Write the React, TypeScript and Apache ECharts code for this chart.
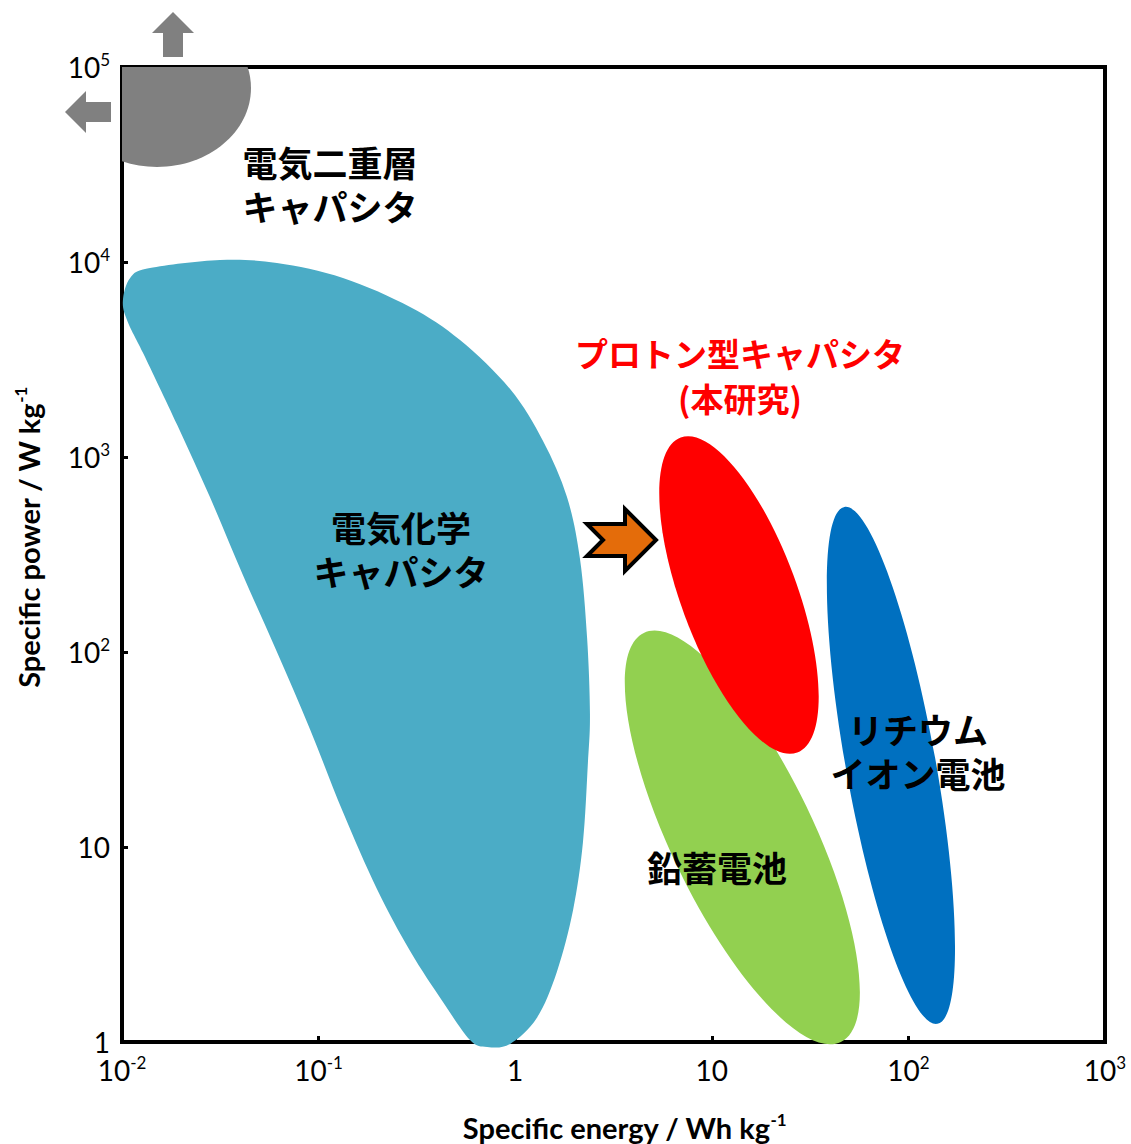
import React, { useEffect, useRef } from 'react';
import * as echarts from 'echarts';

// Axis ticks (specific energy, Wh/kg and specific power, W/kg)
const xTickValues = [0.01, 0.1, 1, 10, 100, 1000];
const xTickLabels = ['10^-2', '10^-1', '1', '10', '10^2', '10^3'];
const yTickValues = [1, 10, 100, 1000, 10000, 100000];
const yTickLabels = ['1', '10', '10^2', '10^3', '10^4', '10^5'];

// Elliptical regions: [centre, end of major axis, end of minor axis] as [Wh/kg, W/kg]
const edlcEllipse: [number, number][] = [[0.01507, 78000], [0.0453, 78000], [0.01507, 30700]];
const protonCapEllipse: [number, number][] = [[13.75, 196], [27.2, 30.5], [26.0, 248.5]];
const leadAcidEllipse: [number, number][] = [[14.3, 11.19], [45.3, 1.0], [30.3, 16.1]];
const liIonEllipse: [number, number][] = [[81.5, 26.2], [140.5, 1.238], [136.7, 28.7]];

// Free-form outline of the electrochemical capacitor region [Wh/kg, W/kg]
const ecCapOutline: [number, number][] = [
  [0.0101, 6270], [0.011, 8280], [0.01388, 9310], [0.0315, 10240], [0.0614, 9880],
  [0.133, 8280], [0.292, 5880], [0.524, 3980], [0.942, 2230], [1.385, 1208],
  [1.834, 623], [2.136, 300], [2.32, 119], [2.4, 48.1], [2.34, 26.3], [2.21, 10.5],
  [1.97, 4.75], [1.63, 2.29], [1.29, 1.33], [0.942, 0.977], [0.72, 0.943],
  [0.589, 1.024], [0.43, 1.6], [0.292, 2.93], [0.198, 6.09], [0.133, 15.1],
  [0.0903, 40.3], [0.0614, 100], [0.0412, 248], [0.028, 623], [0.0191, 1460],
  [0.0128, 3415], [0.0107, 4925],
];

const FONT_JP = '"Noto Sans CJK JP", "Noto Sans", sans-serif';
const FONT_LAT = 'Lato, "Open Sans", sans-serif';

function tickFormatter(values: number[], labels: string[]) {
  return (v: number) => {
    let idx = 0;
    let best = Infinity;
    values.forEach((t, i) => {
      const d = Math.abs(Math.log10(t) - Math.log10(v));
      if (d < best) { best = d; idx = i; }
    });
    const parts = labels[idx].split('^');
    return parts.length > 1 ? `{b|${parts[0]}}{s|${parts[1]}}` : `{b|${parts[0]}}`;
  };
}

const tickRich = {
  b: { fontSize: 28, fontFamily: FONT_LAT, color: '#000', lineHeight: 32 },
  s: { fontSize: 17, fontFamily: FONT_LAT, color: '#000', lineHeight: 15, verticalAlign: 'top' },
};
const nameRich = {
  t: { fontSize: 29, fontFamily: FONT_LAT, fontWeight: 'bold', color: '#000', lineHeight: 32 },
  s: { fontSize: 17, fontFamily: FONT_LAT, fontWeight: 'bold', color: '#000', lineHeight: 14, verticalAlign: 'top' },
};

function ellipseRegion(name: string, pts: [number, number][], color: string, clip: boolean) {
  return {
    type: 'custom',
    name,
    coordinateSystem: 'cartesian2d',
    clip,
    silent: true,
    data: pts,
    encode: { x: 0, y: 1 },
    renderItem: (params: any, api: any) => {
      if (params.dataIndex !== 0) return null;
      const [c, m, n] = pts.map((p) => api.coord(p));
      const dx = m[0] - c[0];
      const dy = m[1] - c[1];
      const a = Math.hypot(dx, dy);
      const b = Math.hypot(n[0] - c[0], n[1] - c[1]);
      return {
        type: 'ellipse',
        x: c[0],
        y: c[1],
        rotation: -Math.atan2(dy, dx),
        shape: { cx: 0, cy: 0, rx: a, ry: b },
        style: { fill: color },
      };
    },
  };
}

function outlineRegion(name: string, pts: [number, number][], color: string) {
  return {
    type: 'custom',
    name,
    coordinateSystem: 'cartesian2d',
    clip: false,
    silent: true,
    data: pts,
    encode: { x: 0, y: 1 },
    renderItem: (params: any, api: any) => {
      if (params.dataIndex !== 0) return null;
      const p = pts.map((q) => api.coord(q));
      const n = p.length;
      let d = `M${p[0][0]},${p[0][1]}`;
      for (let i = 0; i < n; i++) {
        const p0 = p[(i - 1 + n) % n];
        const p1 = p[i];
        const p2 = p[(i + 1) % n];
        const p3 = p[(i + 2) % n];
        const c1x = p1[0] + (p2[0] - p0[0]) / 6;
        const c1y = p1[1] + (p2[1] - p0[1]) / 6;
        const c2x = p2[0] - (p3[0] - p1[0]) / 6;
        const c2y = p2[1] - (p3[1] - p1[1]) / 6;
        d += ` C${c1x},${c1y} ${c2x},${c2y} ${p2[0]},${p2[1]}`;
      }
      d += ' Z';
      return { type: 'path', shape: { pathData: d }, style: { fill: color } };
    },
  };
}

function jpText(text: string, x: number, y: number, size: number, color = '#000', lineHeight = 44) {
  return {
    type: 'text',
    x,
    y,
    z: 100,
    style: {
      text,
      fill: color,
      font: `bold ${size}px ${FONT_JP}`,
      lineHeight,
      textAlign: 'center',
      textVerticalAlign: 'middle',
    },
  };
}

export default function App() {
  const ref = useRef<HTMLDivElement>(null);
  useEffect(() => {
    document.body.style.margin = '0';
    if (!ref.current) return;
    const chart = echarts.init(ref.current, null, { renderer: 'svg' });
    chart.setOption({
      animation: false,
      backgroundColor: '#fff',
      grid: {
        left: 122, right: 26, top: 67, bottom: 102,
        outerBoundsMode: 'none',
        containLabel: false,
        show: true, borderColor: '#000', borderWidth: 4, backgroundColor: 'transparent',
      },
      xAxis: {
        type: 'log', logBase: 10, min: 0.01, max: 1000,
        name: '{t|Specific energy / Wh kg}{s|-1}',
        nameLocation: 'middle', nameGap: 69,
        nameTextStyle: { rich: nameRich, padding: [0, 0, 0, 22] },
        axisLine: { lineStyle: { color: '#000', width: 4 } },
        axisTick: { show: true, inside: true, length: 6, lineStyle: { color: '#000', width: 3 } },
        minorTick: { show: false },
        splitLine: { show: false },
        axisLabel: { margin: 12, formatter: tickFormatter(xTickValues, xTickLabels), rich: tickRich },
      },
      yAxis: {
        type: 'log', logBase: 10, min: 1, max: 100000,
        name: '{t|Specific power / W kg}{s|-1}',
        nameLocation: 'middle', nameRotate: 90, nameGap: 78,
        nameTextStyle: { rich: nameRich, padding: [0, 0, 0, 34] },
        axisLine: { lineStyle: { color: '#000', width: 4 } },
        axisTick: { show: true, inside: true, length: 6, lineStyle: { color: '#000', width: 3 } },
        splitLine: { show: false },
        axisLabel: { margin: 12, formatter: tickFormatter(yTickValues, yTickLabels), rich: tickRich },
      },
      series: [
        ellipseRegion('電気二重層キャパシタ', edlcEllipse, '#808080', true),
        outlineRegion('電気化学キャパシタ', ecCapOutline, '#4BACC6'),
        ellipseRegion('鉛蓄電池', leadAcidEllipse, '#92D050', false),
        ellipseRegion('プロトン型キャパシタ', protonCapEllipse, '#FF0000', false),
        ellipseRegion('リチウムイオン電池', liIonEllipse, '#0070C0', false),
      ],
      graphic: [
        {
          type: 'polygon', z: 50,
          shape: { points: [[173, 12], [194, 33], [183, 33], [183, 57], [163, 57], [163, 33], [152, 33]] },
          style: { fill: '#808080' },
        },
        {
          type: 'polygon', z: 50,
          shape: { points: [[65, 112], [86, 91], [86, 102], [111, 102], [111, 122], [86, 122], [86, 133]] },
          style: { fill: '#808080' },
        },
        {
          type: 'polygon', z: 50,
          shape: { points: [[587, 524], [625, 524], [625, 509], [656, 540], [625, 571], [625, 556], [587, 556], [603, 540]] },
          style: { fill: '#E46C0A', stroke: '#000', lineWidth: 4, lineJoin: 'miter' },
        },
        jpText('電気二重層\nキャパシタ', 330, 183, 35),
        jpText('電気化学\nキャパシタ', 401, 548, 35),
        jpText('プロトン型キャパシタ\n(本研究)', 740, 375, 33, '#FF0000', 45),
        jpText('リチウム\nイオン電池', 918, 750, 35),
        jpText('鉛蓄電池', 717, 866, 35),
      ],
    });
    return () => chart.dispose();
  }, []);
  return <div ref={ref} style={{ width: 1131, height: 1144 }} />;
}
